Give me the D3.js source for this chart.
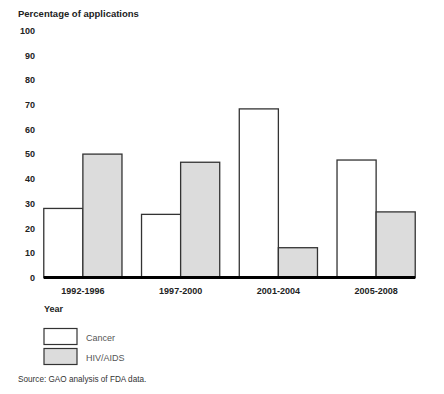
<!DOCTYPE html>
<html>
<head>
<meta charset="utf-8">
<script src="https://cdn.jsdelivr.net/npm/d3@7"></script>
<style>
  body { margin: 0; background: #fff; }
  svg { display: block; font-family: "Liberation Sans", Arial, sans-serif; }
</style>
</head>
<body>
<div id="chart"></div>
<script>
// chart data
var periods = ['1992-1996', '1997-2000', '2001-2004', '2005-2008'];
var cancer = [28, 25.6, 68.3, 47.6];
var hiv = [50, 46.7, 12.1, 26.6];
var seriesNames = ['Cancer', 'HIV/AIDS'];
var yTicks = [0, 10, 20, 30, 40, 50, 60, 70, 80, 90, 100];

var svgWidth = 444, svgHeight = 394;
var fills = ['#ffffff', '#dcdcdc'];

var svg = d3.select('#chart').append('svg')
    .attr('width', svgWidth)
    .attr('height', svgHeight);

var yScale = d3.scaleLinear()
    .domain([0, 100])
    .range([277.6, 30.6]);

var xScale = d3.scaleBand()
    .domain(periods)
    .range([34, 425])
    .paddingInner(0.2)
    .paddingOuter(0.1);

var inner = d3.scaleBand()
    .domain(seriesNames)
    .range([0, xScale.bandwidth()]);

// title
svg.append('text')
    .attr('x', 18)
    .attr('y', 17)
    .attr('font-size', 9.5)
    .attr('font-weight', 'bold')
    .attr('fill', '#222')
    .text('Percentage of applications');

// y ticks (no axis line)
var yAxis = d3.axisLeft(yScale).tickValues(yTicks).tickSize(0).tickPadding(0);
var gy = svg.append('g')
    .attr('transform', 'translate(35,0)')
    .call(yAxis);
gy.select('.domain').remove();
gy.selectAll('text')
    .attr('font-size', 9)
    .attr('font-weight', 'bold')
    .attr('fill', '#222')
    .attr('font-family', '"Liberation Sans", Arial, sans-serif');

// bars
var rows = periods.map(function(p, i){
    return {period: p, values: [cancer[i], hiv[i]]};
});

var groups = svg.selectAll('.grp')
    .data(rows)
    .enter().append('g')
    .attr('class', 'grp')
    .attr('transform', function(d){ return 'translate(' + xScale(d.period) + ',0)'; });

groups.selectAll('rect')
    .data(function(d){ return d.values.map(function(v, j){ return {name: seriesNames[j], value: v, j: j}; }); })
    .enter().append('rect')
    .attr('x', function(d){ return inner(d.name); })
    .attr('y', function(d){ return yScale(d.value); })
    .attr('width', inner.bandwidth())
    .attr('height', function(d){ return yScale(0) - yScale(d.value); })
    .attr('fill', function(d){ return fills[d.j]; })
    .attr('stroke', '#333')
    .attr('stroke-width', 1.3);

// baseline
svg.append('line')
    .attr('x1', xScale(periods[0]))
    .attr('x2', xScale(periods[periods.length - 1]) + xScale.bandwidth())
    .attr('y1', yScale(0))
    .attr('y2', yScale(0))
    .attr('stroke', '#000')
    .attr('stroke-width', 3);

// x labels
var xAxis = d3.axisBottom(xScale).tickSize(0).tickPadding(0);
var gx = svg.append('g')
    .attr('transform', 'translate(0,288)')
    .call(xAxis);
gx.select('.domain').remove();
gx.selectAll('text')
    .attr('font-size', 9)
    .attr('font-weight', 'bold')
    .attr('fill', '#222')
    .attr('font-family', '"Liberation Sans", Arial, sans-serif');

svg.append('text')
    .attr('x', 44)
    .attr('y', 312)
    .attr('font-size', 9)
    .attr('font-weight', 'bold')
    .attr('fill', '#222')
    .text('Year');

// legend
var legend = svg.selectAll('.leg')
    .data(seriesNames)
    .enter().append('g')
    .attr('class', 'leg')
    .attr('transform', function(d, i){ return 'translate(44,' + (328.5 + i * 20) + ')'; });

legend.append('rect')
    .attr('width', 33)
    .attr('height', 16)
    .attr('fill', function(d, i){ return fills[i]; })
    .attr('stroke', '#333')
    .attr('stroke-width', 1.2);

legend.append('text')
    .attr('x', 42)
    .attr('y', 12)
    .attr('font-size', 9)
    .attr('fill', '#555')
    .text(function(d){ return d; });

svg.append('text')
    .attr('x', 18)
    .attr('y', 382)
    .attr('font-size', 8.2)
    .attr('fill', '#333')
    .text('Source: GAO analysis of FDA data.');
</script>
</body>
</html>
